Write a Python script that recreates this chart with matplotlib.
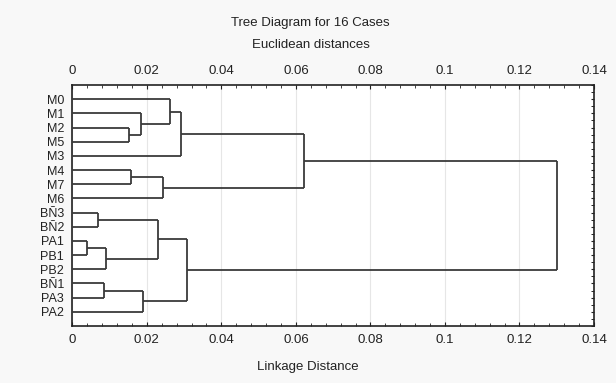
import matplotlib
matplotlib.use("Agg")
import matplotlib.pyplot as plt
from matplotlib.ticker import MultipleLocator, FuncFormatter

# Leaf labels in display order (top to bottom)
leaves = ["M0", "M1", "M2", "M5", "M3", "M4", "M7", "M6",
          "BÑ3", "BÑ2", "PA1", "PB1", "PB2", "BÑ1", "PA3", "PA2"]

# Agglomeration steps: (left cluster, right cluster, linkage distance)
# Clusters 0..15 are leaves, new clusters are numbered from 16 onward.
merge_left = [2, 1, 0, 18, 5, 20, 19, 8, 10, 24, 23, 13, 27, 26, 22]
merge_right = [3, 16, 17, 4, 6, 7, 21, 9, 11, 12, 25, 14, 15, 28, 29]
merge_dist = [0.0152, 0.0184, 0.0262, 0.0291, 0.0157, 0.0244, 0.0622,
              0.0070, 0.0040, 0.0090, 0.0230, 0.0086, 0.0189, 0.0307, 0.1300]

x_ticks = [0, 0.02, 0.04, 0.06, 0.08, 0.1, 0.12, 0.14]

plt.rcParams["font.family"] = ["Liberation Sans", "DejaVu Sans"]

fig = plt.figure(figsize=(6.16, 3.83), dpi=100, facecolor="#f8f8f8")
ax = fig.add_axes([0.1174, 0.1488, 0.8469, 0.6293])
ax.set_facecolor("white")

n = len(leaves)
pos_y = {i: float(i) for i in range(n)}
pos_x = {i: 0.0 for i in range(n)}

line_kw = dict(color="#3a3a3a", lw=1.3, solid_capstyle="butt", zorder=3)
for k, (a, b, d) in enumerate(zip(merge_left, merge_right, merge_dist)):
    c = n + k
    ya, yb = pos_y[a], pos_y[b]
    ax.plot([pos_x[a], d], [ya, ya], **line_kw)
    ax.plot([pos_x[b], d], [yb, yb], **line_kw)
    ax.plot([d, d], [ya, yb], **line_kw)
    pos_y[c] = (ya + yb) / 2
    pos_x[c] = d

ax.set_xlim(0, 0.14)
ax.set_ylim(n, -1)

ax.set_xticks(x_ticks)
ax.xaxis.set_major_formatter(FuncFormatter(lambda v, p: f"{v:g}"))
ax.xaxis.set_minor_locator(MultipleLocator(0.004))
ax.set_yticks(range(n))
ax.set_yticklabels(leaves)
ax.yaxis.set_minor_locator(MultipleLocator(0.5))

ax.tick_params(axis="x", which="both", direction="in", top=True, labeltop=True,
               labelsize=9.5, colors="#222222", pad=6)
ax.tick_params(axis="x", which="major", length=3)
ax.tick_params(axis="x", which="minor", length=2)
ax.tick_params(axis="y", which="major", left=False, right=True, direction="in",
               length=2, labelsize=9, pad=6, colors="#222222")
ax.tick_params(axis="y", which="minor", left=False, right=True, direction="in",
               length=2)

ax.grid(axis="x", which="major", color="#e6e6e6", lw=0.8, zorder=0)
for s in ax.spines.values():
    s.set_color("#222222")
    s.set_linewidth(1.2)

fig.text(0.503, 1 - 22.7 / 383, "Tree Diagram for 16 Cases", ha="center",
         va="center", fontsize=9.5, color="#222222")
fig.text(0.505, 1 - 44.5 / 383, "Euclidean distances", ha="center",
         va="center", fontsize=9.5, color="#222222")
fig.text(0.500, 1 - 366.7 / 383, "Linkage Distance", ha="center",
         va="center", fontsize=9.5, color="#222222")

fig.savefig("out.png", dpi=100, facecolor=fig.get_facecolor())
